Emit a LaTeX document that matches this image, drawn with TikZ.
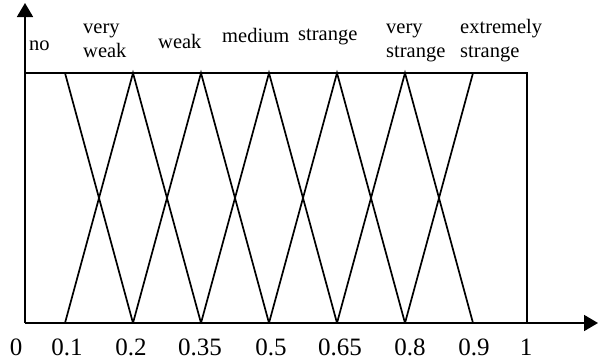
\documentclass[tikz,border=0pt]{standalone}
\usepackage{fontspec}
\setmainfont{Liberation Serif}
\usetikzlibrary{arrows.meta}

\begin{document}
\begin{tikzpicture}[
    x=1pt, y=-1pt,
    axis/.style={line width=1.8pt, -{Triangle[length=14pt, width=16pt]}},
    mf/.style={line width=1.7pt, line join=miter},
    term/.style={font=\fontsize{20.5}{24}\selectfont, inner sep=0pt,
                 anchor=base west, align=left},
    tick/.style={font=\fontsize{25}{28}\selectfont, inner sep=0pt, anchor=base}
]
\useasboundingbox (0,0) rectangle (599,362);

% ================= COORDINATES =================
\coordinate (O) at (25,323);
\coordinate (Ytop) at (25,3);
\coordinate (Xend) at (598,323);
\coordinate (t0) at (25,73);
\foreach \n/\x in {1/65,2/133,3/201,4/269,5/337,6/405,7/473,8/527} {
  \coordinate (t\n) at (\x,73);
  \coordinate (b\n) at (\x,323);
}

% ================= AXES & FRAME =================
\draw[axis] (O) -- (Ytop);
\draw[axis] (O) -- (Xend);
\draw[mf] (t0) -- (t8) -- (b8);

% ================= MEMBERSHIP FUNCTIONS =================
\draw[mf] (t1) -- (b2);
\draw[mf] (b1) -- (t2) -- (b3);
\draw[mf] (b2) -- (t3) -- (b4);
\draw[mf] (b3) -- (t4) -- (b5);
\draw[mf] (b4) -- (t5) -- (b6);
\draw[mf] (b5) -- (t6) -- (b7);
\draw[mf] (b6) -- (t7);

% ================= LABELS =================
\node[term] (No) at (29,50) {no};
\node[term] (VeryWeak) at (83,57) {very\\weak};
\node[term] (Weak) at (158,48) {weak};
\node[term] (Medium) at (222,42) {medium};
\node[term] (Strange) at (298,40) {strange};
\node[term] (VeryStrange) at (386,57) {very\\strange};
\node[term] (ExtStrange) at (460,57) {extremely\\strange};

\foreach \v/\x [count=\i] in {0/16,0.1/67,0.2/131,0.35/200,0.5/271,0.65/340,0.8/410,0.9/474,1/526}
  \node[tick] (Tick\i) at (\x,355) {\v};

\end{tikzpicture}
\end{document}
